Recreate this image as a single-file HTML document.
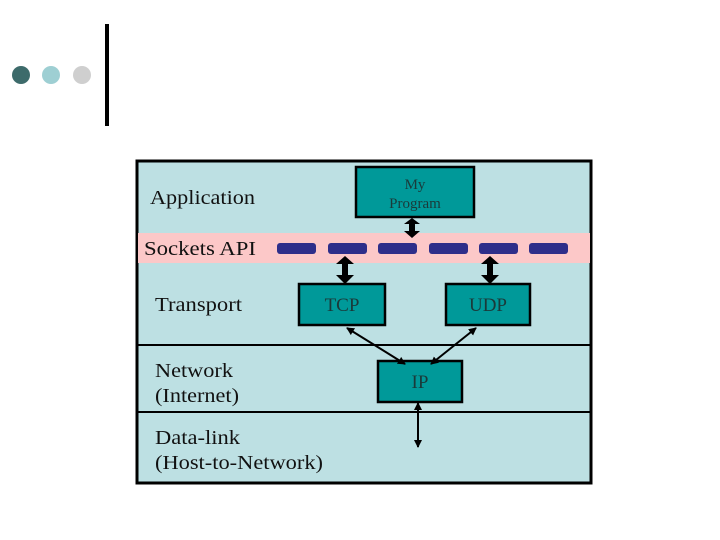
<!DOCTYPE html>
<html><head><style>
body{margin:0;width:720px;height:540px;background:#fff;overflow:hidden;position:relative}
</style></head><body>
<svg width="720" height="540" xmlns="http://www.w3.org/2000/svg" style="position:absolute;left:0;top:0">
<defs>
<marker id="a" markerWidth="8" markerHeight="8" refX="7" refY="4" orient="auto-start-reverse" markerUnits="userSpaceOnUse"><path d="M0,0 L8,4 L0,8 z" fill="#000"/></marker>
</defs>
<circle cx="21" cy="75" r="9" fill="#3d6b6b"/>
<circle cx="51" cy="75" r="9" fill="#9ecfd3"/>
<circle cx="82" cy="75" r="9" fill="#cfcfcf"/>
<rect x="105" y="24" width="4" height="102" fill="#000"/>
<rect x="137" y="161" width="454" height="322" fill="#bde0e3" stroke="#000" stroke-width="3"/>
<rect x="138" y="233" width="452" height="30" fill="#fcc8c8"/>
<line x1="137" y1="345" x2="591" y2="345" stroke="#000" stroke-width="2"/>
<line x1="137" y1="412" x2="591" y2="412" stroke="#000" stroke-width="2"/>
<g fill="#2e2e8a">
<rect x="277" y="243" width="39" height="11" rx="3"/>
<rect x="328" y="243" width="39" height="11" rx="3"/>
<rect x="378" y="243" width="39" height="11" rx="3"/>
<rect x="429" y="243" width="39" height="11" rx="3"/>
<rect x="479" y="243" width="39" height="11" rx="3"/>
<rect x="529" y="243" width="39" height="11" rx="3"/>
</g>
<g fill="#009999" stroke="#000" stroke-width="2.5">
<rect x="356" y="167" width="118" height="50"/>
<rect x="299" y="284" width="86" height="41"/>
<rect x="446" y="284" width="84" height="41"/>
<rect x="378" y="361" width="84" height="41"/>
</g>
<g fill="#000">
<path d="M404,224 L412,218 L420,224 L415,224 L415,231 L420,231 L412,238 L404,231 L409,231 L409,224 z"/>
<path d="M336,264 L345,256 L354,264 L348,264 L348,275 L354,275 L345,284 L336,275 L342,275 L342,264 z"/>
<path d="M481,264 L490,256 L499,264 L493,264 L493,275 L499,275 L490,284 L481,275 L487,275 L487,264 z"/>
</g>
<g stroke="#000" stroke-width="2" fill="none">
<line x1="347" y1="328" x2="405" y2="364" marker-start="url(#a)" marker-end="url(#a)"/>
<line x1="476" y1="328" x2="431" y2="364" marker-start="url(#a)" marker-end="url(#a)"/>
<line x1="418" y1="403" x2="418" y2="447" marker-start="url(#a)" marker-end="url(#a)"/>
</g>
<g font-family="Liberation Serif, serif" fill="#111" font-size="20">
<text x="150" y="204" textLength="105" lengthAdjust="spacingAndGlyphs">Application</text>
<text x="144" y="255" textLength="112" lengthAdjust="spacingAndGlyphs">Sockets API</text>
<text x="155" y="311" textLength="87" lengthAdjust="spacingAndGlyphs">Transport</text>
<text x="155" y="377" textLength="78" lengthAdjust="spacingAndGlyphs">Network</text>
<text x="155" y="402" textLength="84" lengthAdjust="spacingAndGlyphs">(Internet)</text>
<text x="155" y="444" textLength="85" lengthAdjust="spacingAndGlyphs">Data-link</text>
<text x="155" y="469" textLength="168" lengthAdjust="spacingAndGlyphs">(Host-to-Network)</text>
<g text-anchor="middle" fill="#1a3a3a">
<text x="415" y="189" font-size="15">My</text>
<text x="415" y="208" font-size="15">Program</text>
<text x="342" y="311" font-size="19">TCP</text>
<text x="488" y="311" font-size="19">UDP</text>
<text x="420" y="388" font-size="19">IP</text>
</g>
</g>
</svg>
</body></html>
